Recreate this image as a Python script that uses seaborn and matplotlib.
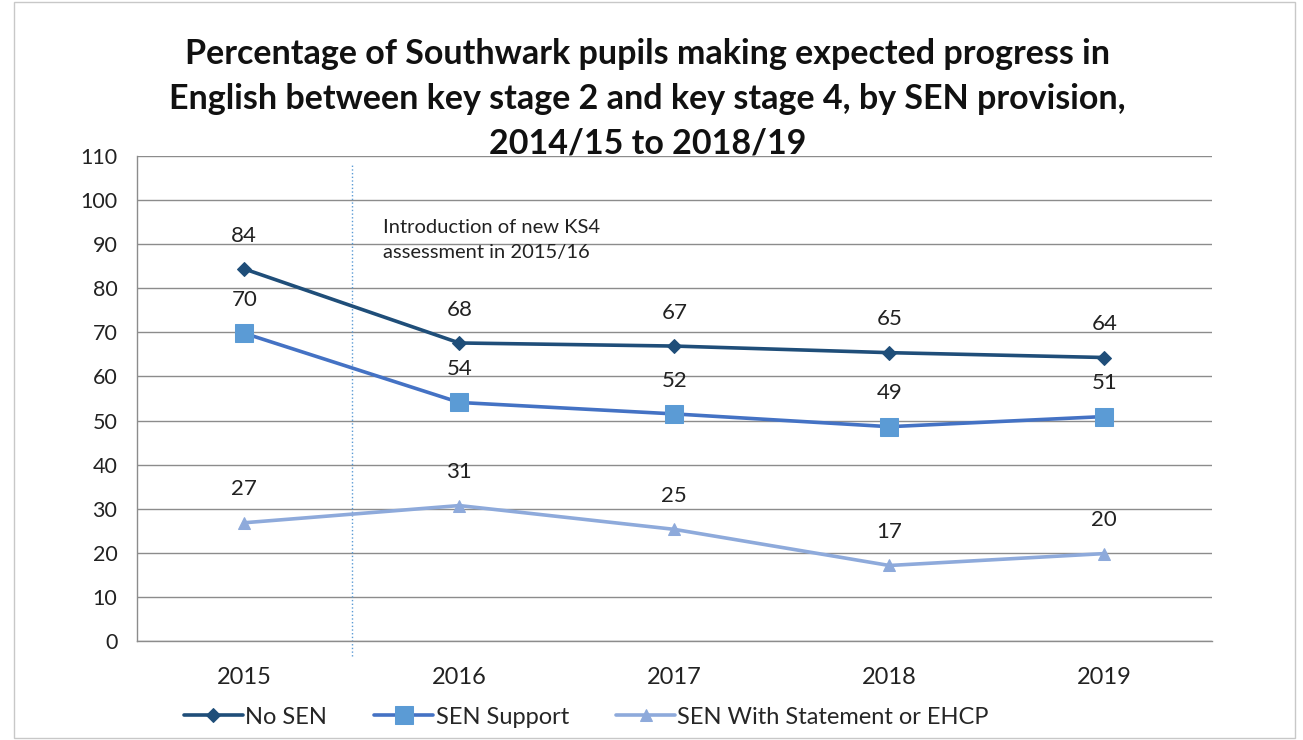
import matplotlib
matplotlib.use("Agg")
import matplotlib.pyplot as plt
import seaborn as sns
import pandas as pd

# chart data
years = ["2015", "2016", "2017", "2018", "2019"]
no_sen = [84.4, 67.6, 66.9, 65.4, 64.3]
sen_support = [69.8, 54.1, 51.5, 48.6, 50.9]
sen_ehcp = [26.8, 30.7, 25.3, 17.1, 19.8]
series_names = ["No SEN", "SEN Support", "SEN With Statement or EHCP"]

title = ("Percentage of Southwark pupils making expected progress in\n"
         "English between key stage 2 and key stage 4, by SEN provision,\n"
         "2014/15 to 2018/19")
note = "Introduction of new KS4\nassessment in 2015/16"

sns.set_theme(style="white")
plt.rcParams['font.family'] = ['Lato', 'DejaVu Sans']

df = pd.DataFrame({
    "year": years * 3,
    "value": no_sen + sen_support + sen_ehcp,
    "series": [series_names[0]] * 5 + [series_names[1]] * 5 + [series_names[2]] * 5,
})

line_cols = {"No SEN": "#1F4E79", "SEN Support": "#4472C4",
             "SEN With Statement or EHCP": "#8EAADB"}
face_cols = {"No SEN": "#1F4E79", "SEN Support": "#5B9BD5",
             "SEN With Statement or EHCP": "#8EAADB"}
markers = {"No SEN": "D", "SEN Support": "s", "SEN With Statement or EHCP": "^"}
msizes = {"No SEN": 7, "SEN Support": 13, "SEN With Statement or EHCP": 9}

fig = plt.figure(figsize=(13.03, 7.40), dpi=100)
ax = fig.add_axes([0.105, 0.134, 0.825, 0.655])

for name in series_names:
    sub = df[df["series"] == name]
    sns.lineplot(data=sub, x="year", y="value", ax=ax, color=line_cols[name],
                 linewidth=2.6, marker=markers[name], markersize=msizes[name],
                 markerfacecolor=face_cols[name], markeredgecolor=face_cols[name],
                 label=name, sort=False)
    for x, v in zip(sub["year"], sub["value"]):
        ax.annotate(f"{v:.0f}", (x, v), xytext=(0, 24), textcoords="offset points",
                    ha="center", va="center", fontsize=16, color="#222222")

ax.set_xlim(-0.5, 4.5)
ax.set_ylim(0, 110)
ax.set_yticks(range(0, 111, 10))
ax.grid(axis="y", color="#8c8c8c", linewidth=1)
ax.set_axisbelow(True)
ax.set_xlabel("")
ax.set_ylabel("")
for s in ["top", "right"]:
    ax.spines[s].set_visible(False)
for s in ["left", "bottom"]:
    ax.spines[s].set_color("#8c8c8c")
    ax.spines[s].set_linewidth(1)
ax.tick_params(axis="y", length=8, color="#8c8c8c", labelsize=15.5, labelcolor="#222222", pad=6)
ax.tick_params(axis="x", which="major", length=0, labelsize=17, labelcolor="#222222", pad=19)
ax.set_xticks([-0.5, 0.5, 1.5, 2.5, 3.5, 4.5], minor=True)
ax.tick_params(axis="x", which="minor", length=10, color="#8c8c8c")

# dotted divider for the new KS4 assessment
ax.plot([0.5, 0.5], [-3.5, 108.5], color="#5B9BD5", linestyle=":", linewidth=1,
        clip_on=False, zorder=1)
ax.text(0.645, 91.0, note, fontsize=14.5, color="#222222", va="center", linespacing=1.6)

ax.get_legend().remove()
handles, labels = ax.get_legend_handles_labels()
fig.legend(handles, labels, loc="center", bbox_to_anchor=(0.45, 0.031), ncol=3,
           frameon=False, fontsize=17, handlelength=2.5, columnspacing=2.0,
           handletextpad=0.1)

fig.suptitle(title, fontsize=24.5, fontweight="bold", y=0.949, linespacing=1.5,
             x=0.497, color="#111111")

border = plt.Rectangle((0.011, 0.003), 0.983, 0.994, transform=fig.transFigure,
                       fill=False, edgecolor="#c8c8c8", linewidth=1)
fig.patches.append(border)

fig.savefig("out.png", dpi=100)
